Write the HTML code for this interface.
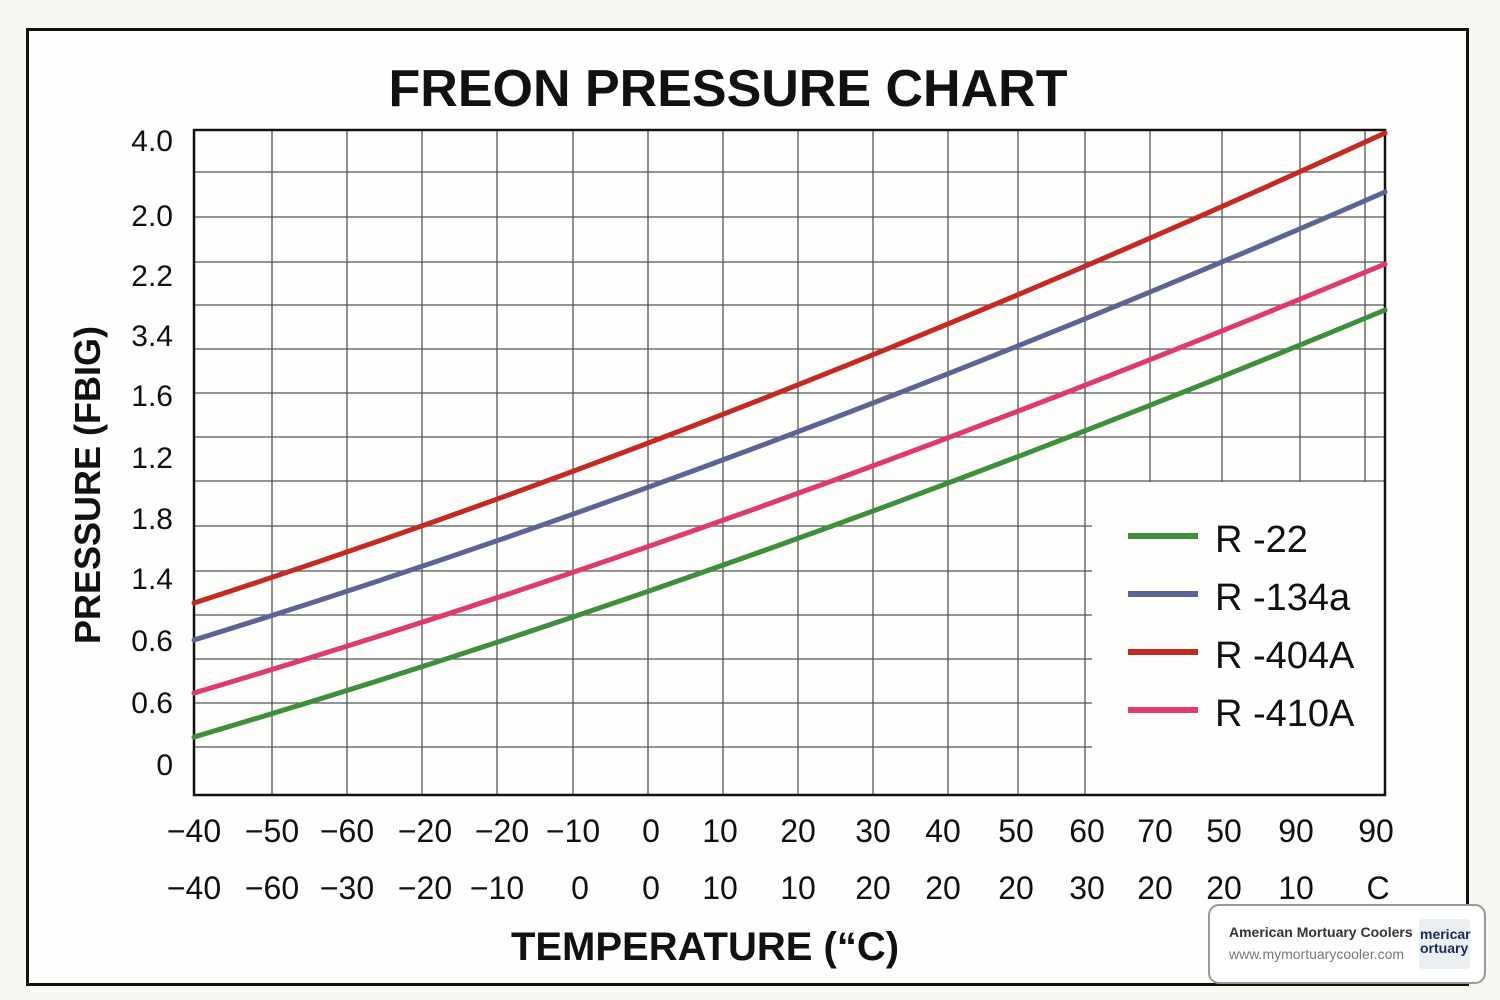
<!DOCTYPE html>
<html><head><style>
body{margin:0;background:#faf9f5;}
svg{display:block}
text{font-family:"Liberation Sans",sans-serif;fill:#111}
</style></head><body>
<svg width="1500" height="1000" viewBox="0 0 1500 1000">
<rect x="0" y="0" width="1500" height="1000" fill="#f9f8f3"/>
<rect x="27.5" y="29.5" width="1440" height="955" fill="#fefefc" stroke="#111" stroke-width="3"/>
<text x="728" y="106" font-size="52" font-weight="bold" text-anchor="middle">FREON PRESSURE CHART</text>
<g stroke="#555" stroke-width="1.3">
<line x1="272" y1="130" x2="272" y2="795"/><line x1="347" y1="130" x2="347" y2="795"/>
<line x1="422" y1="130" x2="422" y2="795"/><line x1="497" y1="130" x2="497" y2="795"/>
<line x1="573" y1="130" x2="573" y2="795"/><line x1="648" y1="130" x2="648" y2="795"/>
<line x1="723" y1="130" x2="723" y2="795"/><line x1="798" y1="130" x2="798" y2="795"/>
<line x1="873" y1="130" x2="873" y2="795"/><line x1="948" y1="130" x2="948" y2="795"/>
<line x1="1018" y1="130" x2="1018" y2="795"/><line x1="1085" y1="130" x2="1085" y2="795"/>
<line x1="1150" y1="130" x2="1150" y2="795"/><line x1="1222" y1="130" x2="1222" y2="795"/>
<line x1="1300" y1="130" x2="1300" y2="795"/><line x1="1365" y1="130" x2="1365" y2="795"/>
<line x1="194" y1="172" x2="1385" y2="172"/><line x1="194" y1="217" x2="1385" y2="217"/>
<line x1="194" y1="262" x2="1385" y2="262"/><line x1="194" y1="305" x2="1385" y2="305"/>
<line x1="194" y1="349" x2="1385" y2="349"/><line x1="194" y1="393" x2="1385" y2="393"/>
<line x1="194" y1="437" x2="1385" y2="437"/><line x1="194" y1="481" x2="1385" y2="481"/>
<line x1="194" y1="526" x2="1385" y2="526"/><line x1="194" y1="571" x2="1385" y2="571"/>
<line x1="194" y1="615" x2="1385" y2="615"/><line x1="194" y1="659" x2="1385" y2="659"/>
<line x1="194" y1="703" x2="1385" y2="703"/><line x1="194" y1="747" x2="1385" y2="747"/>
</g>
<rect x="1092" y="482" width="292" height="312" fill="#fefefc"/>
<rect x="194" y="130" width="1191" height="665" fill="none" stroke="#111" stroke-width="2.5"/>
<g fill="none" stroke-width="5" stroke-linecap="round">
<path d="M194,603 Q760,420 1385,133" stroke="#c42a22"/>
<path d="M194,640 Q760,465 1385,192" stroke="#5a6596"/>
<path d="M194,693 Q760,525 1385,264" stroke="#df3a6a"/>
<path d="M194,737 Q760,570 1385,310" stroke="#3d8f3a"/>
</g>
<g stroke-width="6">
<line x1="1128" y1="536" x2="1198" y2="536" stroke="#3d8f3a"/>
<line x1="1128" y1="594" x2="1198" y2="594" stroke="#5a6596"/>
<line x1="1128" y1="652" x2="1198" y2="652" stroke="#c42a22"/>
<line x1="1128" y1="710" x2="1198" y2="710" stroke="#df3a6a"/>
</g>
<g font-size="38">
<text x="1215" y="552">R -22</text><text x="1215" y="610">R -134a</text>
<text x="1215" y="668">R -404A</text><text x="1215" y="726">R -410A</text>
</g>
<g font-size="30" text-anchor="end">
<text x="173" y="151">4.0</text><text x="173" y="226">2.0</text><text x="173" y="286">2.2</text>
<text x="173" y="346">3.4</text><text x="173" y="406">1.6</text><text x="173" y="468">1.2</text>
<text x="173" y="529">1.8</text><text x="173" y="589">1.4</text><text x="173" y="651">0.6</text>
<text x="173" y="713">0.6</text><text x="173" y="775">0</text>
</g>
<text transform="translate(100,485) rotate(-90)" font-size="36" font-weight="bold" text-anchor="middle">PRESSURE (FBIG)</text>
<g font-size="32" text-anchor="middle">
<text x="194" y="842">−40</text><text x="272" y="842">−50</text><text x="347" y="842">−60</text>
<text x="425" y="842">−20</text><text x="502" y="842">−20</text><text x="573" y="842">−10</text>
<text x="651" y="842">0</text><text x="720" y="842">10</text><text x="798" y="842">20</text>
<text x="873" y="842">30</text><text x="943" y="842">40</text><text x="1016" y="842">50</text>
<text x="1087" y="842">60</text><text x="1155" y="842">70</text><text x="1224" y="842">50</text>
<text x="1296" y="842">90</text><text x="1376" y="842">90</text>
<text x="194" y="899">−40</text><text x="272" y="899">−60</text><text x="347" y="899">−30</text>
<text x="425" y="899">−20</text><text x="497" y="899">−10</text><text x="580" y="899">0</text>
<text x="651" y="899">0</text><text x="720" y="899">10</text><text x="798" y="899">10</text>
<text x="873" y="899">20</text><text x="943" y="899">20</text><text x="1016" y="899">20</text>
<text x="1087" y="899">30</text><text x="1155" y="899">20</text><text x="1224" y="899">20</text>
<text x="1296" y="899">10</text><text x="1378" y="899">C</text>
</g>
<text x="705" y="960" font-size="40" font-weight="bold" text-anchor="middle">TEMPERATURE (“C)</text>
<rect x="1209" y="905" width="276" height="78" rx="10" fill="#fff" stroke="#999" stroke-width="2"/>
<text x="1229" y="937" font-size="14" font-weight="bold" style="fill:#333">American Mortuary Coolers</text>
<text x="1229" y="959" font-size="14" style="fill:#777">www.mymortuarycooler.com</text>
<rect x="1419" y="919" width="51" height="50" rx="4" fill="#eceff2"/>
<text x="1420" y="939" font-size="14" font-weight="bold" style="fill:#1c2a5a">mericar</text>
<text x="1420" y="953" font-size="14" font-weight="bold" style="fill:#1c2a5a">ortuary</text>
</svg>
</body></html>
